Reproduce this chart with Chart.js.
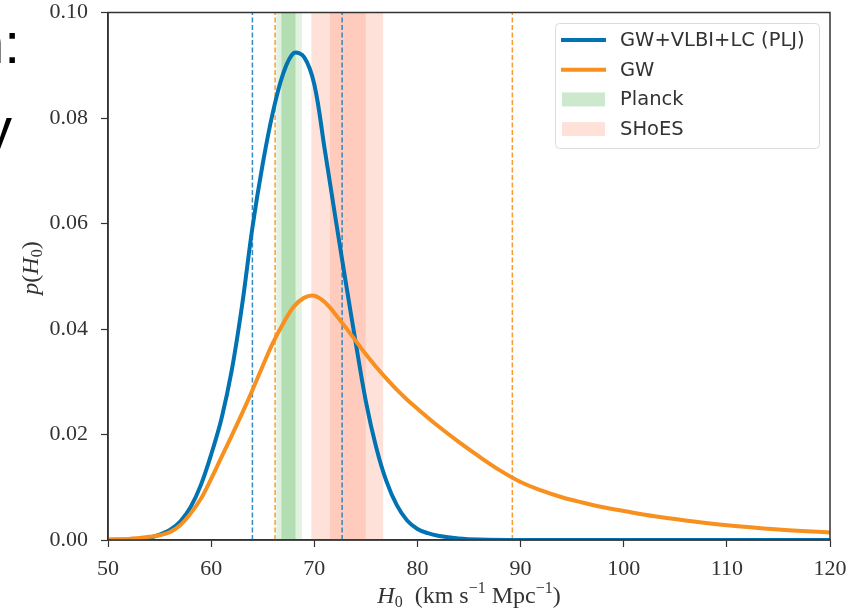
<!DOCTYPE html>
<html>
<head>
<meta charset="utf-8">
<script src="https://cdn.jsdelivr.net/npm/chart.js@4.4.1/dist/chart.umd.min.js"></script>
<style>
html, body { margin: 0; padding: 0; background: #fff; overflow: hidden; }
#wrap { position: relative; width: 859px; height: 612px; overflow: hidden; }
.frag { position: absolute; font-family: "Liberation Sans", Arial, sans-serif; font-size: 57px; color: #000; white-space: nowrap; }
</style>
</head>
<body>
<div id="wrap">
  <canvas id="chart" width="859" height="612"></canvas>
  <div class="frag" style="right:839px; top:10px;">n:</div>
  <div class="frag" style="right:847px; top:95px;">y</div>
</div>
<script>
// H0 grid and posterior values
var hBlue = [50, 52, 54, 55, 56, 57, 58, 59, 60, 61, 62, 63, 64, 65, 66, 67, 68, 69, 70,
             71, 72, 73, 74, 75, 76, 77, 78, 79, 80, 81, 82, 84, 86, 90, 100, 110, 120];
var pBlue = [0.0000, 0.0001, 0.0004, 0.0010, 0.0019, 0.0035, 0.0062, 0.0104, 0.0162, 0.0230,
             0.0322, 0.0445, 0.0592, 0.0713, 0.0812, 0.0885, 0.0923, 0.0916, 0.0864,
             0.0742, 0.0617, 0.0495, 0.0376, 0.0263, 0.0176, 0.0111, 0.0066, 0.0037, 0.0021,
             0.0013, 0.0008, 0.0003, 0.0001, 0, 0, 0, 0];

var hGW = [50, 52, 54, 55, 56, 57, 58, 59, 60, 61, 62, 63, 64, 65, 66, 67, 68, 69, 70, 71,
           72, 73, 74, 75, 76, 77, 78, 79, 80, 82, 84, 86, 88, 90, 92, 94, 96, 98, 100,
           103, 106, 110, 115, 120];
var pGW = [0.0001, 0.0002, 0.0006, 0.0009, 0.0015, 0.0028, 0.0050, 0.0078, 0.0116, 0.0157,
           0.0198, 0.0240, 0.0284, 0.0330, 0.0374, 0.0411, 0.0442, 0.0459, 0.0463, 0.0451,
           0.0429, 0.0404, 0.0378, 0.0352, 0.0328, 0.0306, 0.0285, 0.0266, 0.0249, 0.0216,
           0.0186, 0.0158, 0.0132, 0.0110, 0.0094, 0.0081, 0.0071, 0.0062, 0.0055,
           0.0045, 0.0037, 0.0028, 0.0020, 0.0014];

// credible intervals (dashed lines)
var blueLines = [64.0, 72.7];
var gwLines = [66.2, 89.2];

// Planck and SHoES bands [lo, hi] : 2 sigma then 1 sigma
var planckBands = [[66.3, 68.8], [66.8, 68.2]];
var shoesBands = [[69.7, 76.7], [71.5, 75.0]];

var xTicks = [50, 60, 70, 80, 90, 100, 110, 120];
var yTicks = [0.00, 0.02, 0.04, 0.06, 0.08, 0.10];

var legendOrder = ['GW+VLBI+LC (PLJ)', 'GW', 'Planck', 'SHoES'];

var BLUE = '#0173b2';
var ORANGE = '#f7901e';
var SERIF = '"Liberation Serif", "Times New Roman", serif';
var SANS = '"DejaVu Sans", sans-serif';

function pts(xs, ys) {
    return xs.map(function (x, i) { return { x: x, y: ys[i] }; });
}

var datasets = [
    {
        label: 'GW', data: pts(hGW, pGW), borderColor: ORANGE, borderWidth: 4,
        pointRadius: 0, tension: 0.35, fill: false, order: 0,
        legendType: 'line'
    },
    {
        label: 'GW+VLBI+LC (PLJ)', data: pts(hBlue, pBlue), borderColor: BLUE, borderWidth: 4,
        pointRadius: 0, tension: 0.35, fill: false, order: 1,
        legendType: 'line'
    }
];

blueLines.forEach(function (v) {
    datasets.push({
        data: [{ x: v, y: 0 }, { x: v, y: 0.1 }], borderColor: 'rgba(30,125,190,0.9)',
        borderWidth: 1.5, borderDash: [5, 2.5], pointRadius: 0, fill: false, order: 2
    });
});
gwLines.forEach(function (v) {
    datasets.push({
        data: [{ x: v, y: 0 }, { x: v, y: 0.1 }], borderColor: 'rgba(247,144,30,0.9)',
        borderWidth: 1.5, borderDash: [5, 2.5], pointRadius: 0, fill: false, order: 2
    });
});
planckBands.forEach(function (b, i) {
    datasets.push({
        label: i == 0 ? 'Planck' : undefined,
        data: [{ x: b[0], y: 0.1 }, { x: b[1], y: 0.1 }],
        borderWidth: 0, borderColor: 'rgba(0,0,0,0)', pointRadius: 0,
        backgroundColor: i == 0 ? 'rgba(44,160,44,0.14)' : 'rgba(44,160,44,0.25)',
        fill: 'origin', order: 3 + i,
        legendType: i == 0 ? 'patch' : undefined, legendColor: 'rgba(44,160,44,0.24)'
    });
});
shoesBands.forEach(function (b, i) {
    datasets.push({
        label: i == 0 ? 'SHoES' : undefined,
        data: [{ x: b[0], y: 0.1 }, { x: b[1], y: 0.1 }],
        borderWidth: 0, borderColor: 'rgba(0,0,0,0)', pointRadius: 0,
        backgroundColor: 'rgba(250,110,70,0.2)',
        fill: 'origin', order: 5 + i,
        legendType: i == 0 ? 'patch' : undefined, legendColor: 'rgba(250,110,70,0.2)'
    });
});

function drawRich(ctx, parts, x, y, align) {
    var w = 0;
    parts.forEach(function (p) { ctx.font = p.font; w += ctx.measureText(p.t).width; });
    var cx = align == 'center' ? x - w / 2 : x;
    parts.forEach(function (p) {
        ctx.font = p.font;
        ctx.fillText(p.t, cx, y + (p.dy || 0));
        cx += ctx.measureText(p.t).width;
    });
}

var decorPlugin = {
    id: 'decor',
    afterDraw: function (chart) {
        var ctx = chart.ctx;
        var a = chart.chartArea;
        ctx.save();
        // frame
        ctx.strokeStyle = '#333';
        ctx.lineWidth = 1.5;
        ctx.strokeRect(a.left, a.top, a.right - a.left, a.bottom - a.top);

        // axis titles
        ctx.fillStyle = '#333';
        ctx.textBaseline = 'alphabetic';
        var big = '24px ' + SERIF, it = 'italic 24px ' + SERIF, small = '16px ' + SERIF;
        drawRich(ctx, [
            { t: 'H', font: it }, { t: '0', font: small, dy: 4 },
            { t: '  (km s', font: big }, { t: '\u22121', font: small, dy: -10 },
            { t: ' Mpc', font: big }, { t: '\u22121', font: small, dy: -10 },
            { t: ')', font: big }
        ], (a.left + a.right) / 2, 603, 'center');

        ctx.save();
        ctx.translate(38, 268);
        ctx.rotate(-Math.PI / 2);
        drawRich(ctx, [
            { t: 'p', font: it }, { t: '(', font: big }, { t: 'H', font: it },
            { t: '0', font: small, dy: 4 }, { t: ')', font: big }
        ], 0, 0, 'center');
        ctx.restore();

        // legend
        var lx = 555, ly = 23, lw = 264, lh = 125;
        ctx.fillStyle = 'rgba(255,255,255,0.8)';
        ctx.strokeStyle = '#dcdcdc';
        ctx.lineWidth = 1;
        ctx.beginPath();
        ctx.roundRect(lx + 0.5, ly + 0.5, lw, lh, 4);
        ctx.fill();
        ctx.stroke();

        var items = legendOrder.map(function (name) {
            return chart.data.datasets.find(function (d) { return d.legendType && d.label == name; });
        });
        ctx.font = '19.5px ' + SANS;
        ctx.textBaseline = 'middle';
        items.forEach(function (d, i) {
            var cy = 40 + i * 29.7;
            if (d.legendType == 'line') {
                ctx.strokeStyle = d.borderColor;
                ctx.lineWidth = 4;
                ctx.beginPath();
                ctx.moveTo(561, cy);
                ctx.lineTo(606, cy);
                ctx.stroke();
            } else {
                ctx.fillStyle = d.legendColor;
                ctx.fillRect(562, cy - 7, 43, 14);
            }
            ctx.fillStyle = '#333';
            ctx.fillText(d.label, 620, cy + 1);
        });
        ctx.restore();
    }
};

var ctx = document.getElementById('chart').getContext('2d');
var chart = new Chart(ctx, {
    type: 'line',
    data: { datasets: datasets },
    options: {
        responsive: false,
        animation: false,
        layout: { padding: { left: 0, right: 29, top: 12.5, bottom: 0 } },
        plugins: {
            legend: { display: false },
            tooltip: { enabled: false }
        },
        scales: {
            x: {
                type: 'linear', min: 50, max: 120,
                afterBuildTicks: function (s) { s.ticks = xTicks.map(function (v) { return { value: v }; }); },
                afterFit: function (s) { s.height = 72; s.paddingLeft = 0; s.paddingRight = 0; },
                ticks: { color: '#333', font: { family: SERIF, size: 22 }, padding: 9, maxRotation: 0,
                         callback: function (v) { return String(v); } },
                grid: { drawOnChartArea: false, tickLength: 7, tickColor: '#333', tickWidth: 1.2 },
                border: { color: '#333', width: 1.5 }
            },
            y: {
                type: 'linear', min: 0, max: 0.1,
                afterBuildTicks: function (s) { s.ticks = yTicks.map(function (v) { return { value: v }; }); },
                afterFit: function (s) { s.width = 108; s.paddingTop = 0; s.paddingBottom = 0; },
                ticks: { color: '#333', font: { family: SERIF, size: 22 }, padding: 13,
                         callback: function (v) { return v.toFixed(2); } },
                grid: { drawOnChartArea: false, tickLength: 7, tickColor: '#333', tickWidth: 1.2 },
                border: { color: '#333', width: 1.5 }
            }
        }
    },
    plugins: [decorPlugin]
});
</script>
</body>
</html>
